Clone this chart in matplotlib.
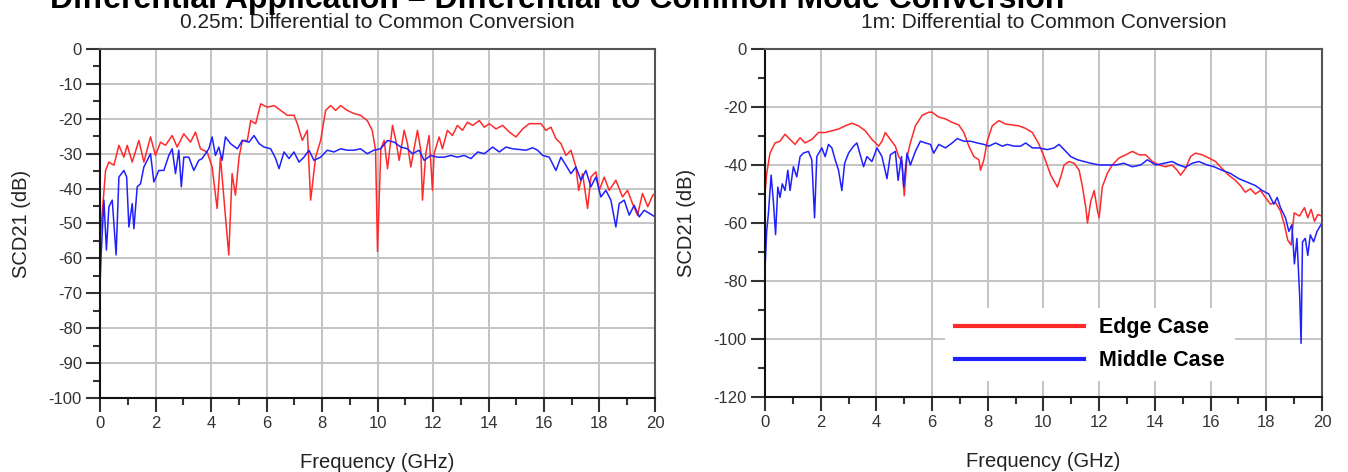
import matplotlib
matplotlib.use("Agg")
import matplotlib.pyplot as plt
from matplotlib.ticker import MultipleLocator

plt.rcParams['font.family'] = ['Liberation Sans', 'DejaVu Sans']
plt.rcParams['axes.unicode_minus'] = False

# 0.25 m channel, edge pair
f_short_edge = [0.0, 0.2, 0.32, 0.5, 0.68, 0.86, 0.98, 1.16, 1.40, 1.58, 1.82, 2.0, 2.18, 2.36, 2.60, 2.78,
                3.02, 3.26, 3.44, 3.62, 3.86, 4.04, 4.22, 4.34, 4.52, 4.64, 4.76, 4.88, 5.01, 5.13, 5.31, 5.43,
                5.61, 5.79, 6.03, 6.27, 6.51, 6.75, 6.99, 7.11, 7.29, 7.47, 7.59, 7.77, 7.95, 8.13, 8.31, 8.49,
                8.67, 8.91, 9.15, 9.39, 9.63, 9.81, 9.93, 10.0, 10.12, 10.24, 10.36, 10.54, 10.66, 10.78, 10.96,
                11.08, 11.2, 11.44, 11.56, 11.62, 11.74, 11.86, 11.98, 12.04, 12.22, 12.34, 12.52, 12.70, 12.88,
                13.06, 13.24, 13.43, 13.67, 13.85, 14.03, 14.27, 14.51, 14.75, 14.99, 15.23, 15.47, 15.71, 15.89,
                16.07, 16.25, 16.43, 16.61, 16.79, 16.97, 17.15, 17.25, 17.39, 17.57, 17.69, 17.87, 17.99, 18.17,
                18.35, 18.59, 18.83, 19.01, 19.19, 19.37, 19.55, 19.74, 19.92, 20.0]
scd_short_edge = [-55.0, -34.8, -32.4, -33.3, -27.6, -31.0, -27.6, -32.4, -26.2, -32.4, -25.2, -30.5, -26.7, -27.6,
                  -24.8, -28.1, -24.3, -26.7, -23.8, -28.6, -29.5, -33.8, -45.7, -31.0, -48.0, -59.0, -35.7, -41.9,
                  -31.0, -26.2, -26.2, -20.5, -21.4, -15.7, -16.7, -16.2, -17.6, -19.0, -19.0, -21.4, -26.2, -23.3,
                  -43.3, -31.0, -26.2, -17.6, -16.2, -17.6, -16.2, -17.6, -18.5, -19.0, -20.5, -23.3, -29.0, -58.0,
                  -28.6, -26.2, -34.3, -21.9, -26.2, -31.9, -23.3, -27.1, -33.8, -23.3, -29.0, -43.3, -30.0, -24.8,
                  -40.5, -30.0, -25.2, -28.6, -23.3, -24.8, -21.9, -23.3, -21.0, -21.9, -20.5, -22.4, -21.4, -22.9,
                  -21.9, -23.8, -25.2, -22.9, -21.4, -21.4, -21.4, -23.3, -22.4, -25.7, -27.1, -30.5, -29.0, -33.8,
                  -40.5, -35.7, -45.7, -36.7, -35.2, -40.5, -36.7, -40.5, -37.6, -42.4, -40.5, -44.3, -47.6, -41.4,
                  -45.2, -41.9, -41.4]

# 0.25 m channel, middle pair
f_short_mid = [0.0, 0.04, 0.14, 0.23, 0.32, 0.44, 0.5, 0.58, 0.68, 0.86, 0.96, 1.04, 1.16, 1.22, 1.34, 1.46, 1.58,
               1.70, 1.82, 1.94, 2.12, 2.30, 2.48, 2.60, 2.72, 2.84, 2.93, 3.02, 3.20, 3.38, 3.56, 3.68, 3.92, 4.04,
               4.16, 4.28, 4.40, 4.52, 4.70, 4.95, 5.13, 5.37, 5.55, 5.73, 5.91, 6.15, 6.33, 6.45, 6.63, 6.81, 6.99,
               7.17, 7.35, 7.53, 7.71, 7.95, 8.19, 8.43, 8.67, 8.91, 9.15, 9.39, 9.63, 9.87, 10.11, 10.36, 10.60,
               10.84, 11.08, 11.26, 11.50, 11.68, 11.92, 12.16, 12.40, 12.64, 12.88, 13.12, 13.37, 13.61, 13.85,
               14.15, 14.39, 14.63, 14.87, 15.11, 15.35, 15.59, 15.77, 15.95, 16.19, 16.43, 16.61, 16.79, 16.97,
               17.15, 17.33, 17.51, 17.69, 17.87, 18.05, 18.23, 18.41, 18.59, 18.71, 18.89, 19.07, 19.25, 19.43,
               19.61, 19.80, 20.0]
scd_short_mid = [-68.0, -59.0, -43.3, -57.6, -45.2, -43.3, -50.0, -59.0, -36.7, -34.8, -36.7, -51.0, -44.3, -51.5,
                 -39.5, -38.6, -33.8, -31.9, -30.0, -38.1, -34.8, -34.8, -30.5, -28.6, -35.7, -29.0, -39.5, -31.0,
                 -31.0, -34.8, -31.9, -31.4, -28.6, -25.2, -30.5, -28.1, -31.9, -25.2, -27.1, -28.6, -26.2, -26.7,
                 -24.8, -27.1, -28.1, -28.6, -31.4, -34.3, -29.5, -31.4, -29.5, -32.4, -31.0, -29.0, -31.9, -31.0,
                 -29.0, -29.5, -28.6, -29.0, -29.0, -28.6, -30.0, -29.0, -28.6, -26.2, -26.7, -28.1, -28.6, -30.0,
                 -29.0, -31.9, -30.5, -31.0, -31.0, -30.5, -31.0, -30.5, -31.4, -29.5, -30.0, -28.1, -29.5, -28.1,
                 -28.6, -28.8, -29.0, -28.3, -29.0, -30.5, -31.0, -34.8, -31.0, -33.3, -35.7, -33.8, -37.6, -34.8,
                 -39.5, -36.7, -42.4, -40.5, -43.3, -51.0, -44.3, -43.3, -47.6, -44.8, -48.1, -46.2, -47.1, -48.1]

# 1 m channel, edge pair
f_long_edge = [0.0, 0.06, 0.18, 0.36, 0.54, 0.72, 0.90, 1.08, 1.26, 1.44, 1.68, 1.92, 2.16, 2.40, 2.64, 2.88, 3.12,
               3.36, 3.60, 3.84, 4.08, 4.20, 4.32, 4.50, 4.68, 4.80, 4.92, 5.0, 5.10, 5.22, 5.40, 5.64, 5.88, 6.0,
               6.24, 6.48, 6.72, 6.96, 7.14, 7.32, 7.50, 7.68, 7.74, 7.86, 7.98, 8.16, 8.40, 8.64, 8.88, 9.12, 9.36,
               9.60, 9.84, 10.02, 10.26, 10.50, 10.62, 10.74, 10.92, 11.10, 11.28, 11.40, 11.52, 11.58, 11.70, 11.82,
               11.94, 12.0, 12.11, 12.29, 12.47, 12.71, 12.95, 13.19, 13.43, 13.67, 13.91, 14.15, 14.38, 14.62, 14.80,
               14.92, 15.10, 15.28, 15.46, 15.70, 15.94, 16.18, 16.41, 16.65, 16.89, 17.07, 17.25, 17.43, 17.61,
               17.79, 17.97, 18.15, 18.33, 18.51, 18.65, 18.77, 18.89, 19.0, 19.19, 19.37, 19.49, 19.61, 19.73,
               19.85, 20.0]
scd_long_edge = [-50.0, -43.0, -35.9, -32.4, -31.8, -29.4, -31.2, -32.9, -30.6, -32.4, -31.2, -28.8, -28.8, -28.2,
                 -27.6, -26.5, -25.6, -26.5, -28.2, -31.2, -33.5, -31.8, -28.8, -31.2, -33.5, -37.1, -38.8, -50.6,
                 -37.1, -32.4, -26.5, -22.9, -21.8, -21.8, -23.5, -24.1, -25.3, -26.2, -28.8, -33.5, -37.1, -38.2,
                 -41.8, -38.2, -31.8, -26.5, -24.7, -25.9, -26.2, -26.5, -27.4, -28.8, -32.9, -37.1, -43.5, -47.6,
                 -44.1, -40.0, -38.8, -39.4, -41.8, -47.6, -54.7, -60.0, -52.4, -48.8, -55.9, -58.2, -47.6, -42.9,
                 -40.0, -37.6, -36.5, -35.3, -36.5, -36.5, -38.8, -40.0, -40.6, -40.0, -41.8, -43.5, -41.2, -37.1,
                 -35.9, -36.5, -37.6, -38.8, -41.2, -43.5, -45.3, -47.1, -49.4, -48.2, -50.0, -48.8, -51.2, -53.5,
                 -52.9, -55.9, -60.6, -65.9, -67.6, -56.5, -57.6, -54.7, -58.2, -55.3, -59.4, -57.1, -57.6]

# 1 m channel, middle pair
f_long_mid = [0.0, 0.06, 0.12, 0.22, 0.30, 0.38, 0.46, 0.54, 0.62, 0.72, 0.82, 0.90, 1.02, 1.14, 1.26, 1.38, 1.56,
              1.68, 1.78, 1.86, 2.04, 2.16, 2.28, 2.40, 2.52, 2.64, 2.76, 2.86, 3.0, 3.18, 3.30, 3.42, 3.54, 3.66,
              3.84, 4.02, 4.20, 4.38, 4.50, 4.68, 4.78, 4.90, 4.98, 5.10, 5.22, 5.40, 5.58, 5.76, 5.94, 6.06, 6.24,
              6.48, 6.72, 6.90, 7.14, 7.38, 7.62, 7.86, 8.04, 8.28, 8.52, 8.70, 8.94, 9.18, 9.36, 9.60, 9.84, 10.14,
              10.38, 10.56, 10.74, 10.98, 11.22, 11.46, 11.70, 12.0, 12.29, 12.59, 12.89, 13.19, 13.49, 13.73,
              14.03, 14.33, 14.62, 14.86, 15.10, 15.34, 15.58, 15.88, 16.12, 16.41, 16.71, 17.01, 17.31, 17.61,
              17.85, 18.09, 18.27, 18.39, 18.51, 18.69, 18.81, 18.92, 19.01, 19.10, 19.20, 19.25, 19.30, 19.40,
              19.49, 19.58, 19.70, 19.82, 20.0]
scd_long_mid = [-76.0, -62.9, -57.0, -43.5, -52.4, -64.0, -47.6, -51.2, -46.5, -48.8, -41.8, -48.8, -40.6, -44.1,
                -37.1, -35.9, -35.3, -38.2, -58.2, -37.1, -34.1, -37.1, -32.9, -34.1, -38.2, -41.8, -48.8, -39.4,
                -35.9, -33.5, -32.4, -36.5, -40.6, -37.1, -38.8, -34.1, -37.1, -44.7, -36.5, -35.3, -45.3, -37.1,
                -47.6, -35.9, -40.0, -35.3, -31.8, -32.4, -32.9, -35.9, -32.9, -34.1, -32.4, -30.9, -31.8, -31.8,
                -32.4, -32.9, -33.5, -32.4, -33.5, -32.9, -33.5, -33.5, -32.4, -34.1, -34.1, -34.7, -34.1, -32.9,
                -34.7, -37.1, -38.2, -38.8, -39.4, -40.0, -40.0, -40.0, -39.4, -40.6, -40.0, -38.2, -40.0, -39.4,
                -38.8, -40.0, -40.8, -39.4, -38.8, -40.0, -40.6, -41.8, -42.9, -44.7, -45.9, -47.1, -48.8, -50.0,
                -53.5, -51.2, -54.7, -58.2, -62.9, -60.6, -74.1, -65.3, -85.3, -101.5, -66.5, -65.3, -71.2, -64.1,
                -66.5, -62.9, -60.0]

panels = [
    ("0.25m: Differential to Common Conversion", f_short_edge, scd_short_edge, f_short_mid, scd_short_mid,
     (-100, 0), 10, 5),
    ("1m: Differential to Common Conversion", f_long_edge, scd_long_edge, f_long_mid, scd_long_mid,
     (-120, 0), 20, 10),
]

fig = plt.figure(figsize=(13.48, 4.72), dpi=100)
positions = [[0.0742, 0.1568, 0.4117, 0.7394], [0.5675, 0.1589, 0.4132, 0.7373]]

for pos, (title, fe, se, fm, sm, ylim, ymaj, ymin) in zip(positions, panels):
    ax = fig.add_axes(pos)
    ax.plot(fe, se, color='#ff2a2a', lw=1.1, label='Edge Case')
    ax.plot(fm, sm, color='#2020ff', lw=1.1, label='Middle Case')
    ax.set_xlim(0, 20)
    ax.set_ylim(*ylim)
    ax.xaxis.set_major_locator(MultipleLocator(2))
    ax.xaxis.set_minor_locator(MultipleLocator(1))
    ax.yaxis.set_major_locator(MultipleLocator(ymaj))
    ax.yaxis.set_minor_locator(MultipleLocator(ymin))
    ax.grid(True, which='major', color='#c4c4c4', lw=1.4)
    ax.set_axisbelow(True)
    ax.tick_params(which='major', direction='out', length=10, width=1.5, labelsize=12, pad=3, colors='#333333')
    ax.tick_params(which='minor', direction='out', length=5, width=1.5, colors='#333333')
    for side in ('left', 'bottom'):
        ax.spines[side].set_color('#111111')
        ax.spines[side].set_linewidth(1.5)
    for side in ('top', 'right'):
        ax.spines[side].set_color('#555555')
        ax.spines[side].set_linewidth(1.5)
    ax.set_title(title, fontsize=15, color='#222222', pad=15)
    ax.set_xlabel('Frequency (GHz)', fontsize=14.5, color='#222222', labelpad=16)
    ax.set_ylabel('SCD21 (dB)', fontsize=14.5, color='#222222', labelpad=13)

leg = ax.legend(loc='upper left', bbox_to_anchor=(0.324, 0.257), frameon=True, fancybox=False,
                edgecolor='none', facecolor='white', framealpha=1.0, handlelength=6.0,
                handletextpad=0.7, labelspacing=0.55, borderpad=0.45, borderaxespad=0,
                prop={'weight': 'bold', 'size': 15.5})
for line in leg.get_lines():
    line.set_linewidth(3)

fig.text(0.037, 1 - 8 / 472, 'Differential Application \u2013 Differential to Common Mode Conversion',
         fontsize=23, fontweight='bold', va='baseline', ha='left')

fig.savefig('out.png', dpi=100)
